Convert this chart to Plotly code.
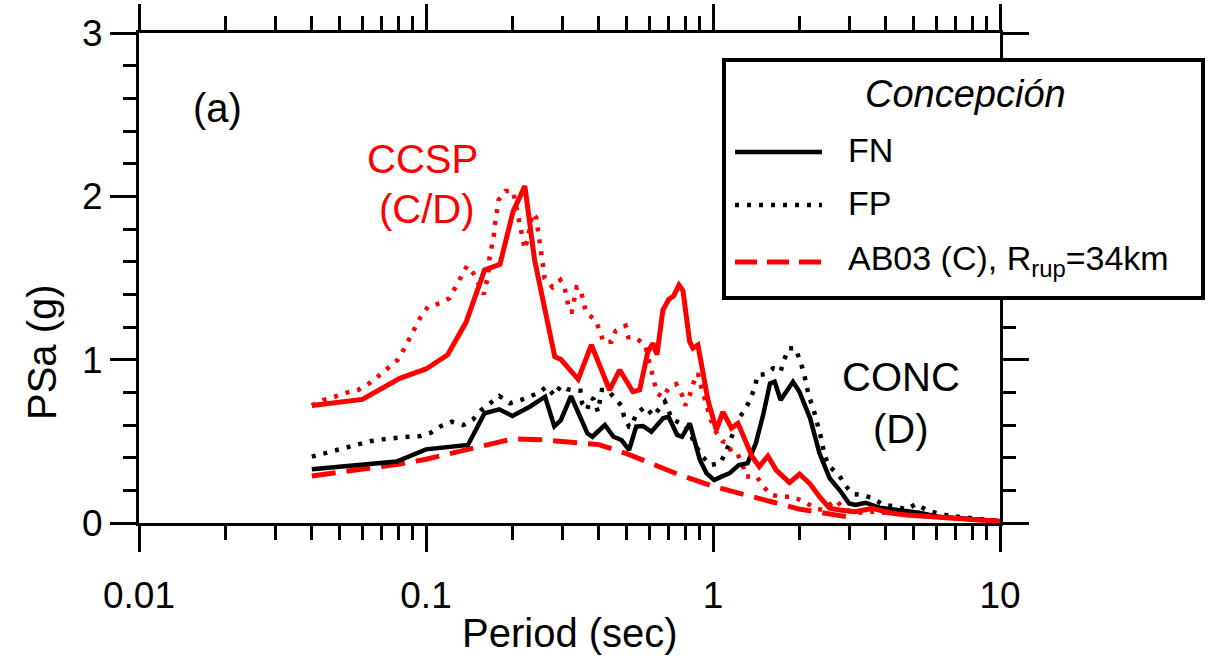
import numpy as np
import plotly.graph_objects as go

# Response spectra, 5% damped PSa (g) vs. period (s)
# CCSP station (site class C/D)
ccsp_fn_T = [0.04, 0.06, 0.081, 0.10, 0.119, 0.138, 0.16, 0.181, 0.201, 0.221, 0.239, 0.281,
             0.295, 0.339, 0.377, 0.436, 0.473, 0.526, 0.555, 0.593, 0.618, 0.638, 0.669,
             0.702, 0.729, 0.761, 0.786, 0.829, 0.851, 0.886, 0.960, 1.027, 1.083, 1.16,
             1.222, 1.341, 1.37, 1.45, 1.553, 1.66, 1.848, 2.003, 2.17, 2.35, 2.55, 2.76,
             3.12, 3.61, 4.1, 4.71, 6.1, 8.0, 10.0]
ccsp_fn_sa = [0.72, 0.757, 0.886, 0.943, 1.03, 1.23, 1.55, 1.584, 1.906, 2.063, 1.61, 1.018,
              1.002, 0.88, 1.09, 0.814, 0.937, 0.804, 0.814, 1.049, 1.10, 1.03, 1.304,
              1.37, 1.39, 1.457, 1.422, 1.11, 1.07, 1.09, 0.753, 0.57, 0.68, 0.58,
              0.61, 0.447, 0.406, 0.345, 0.41, 0.324, 0.247, 0.30, 0.243, 0.161, 0.09, 0.08,
              0.069, 0.09, 0.063, 0.049, 0.035, 0.023, 0.01]

ccsp_fp_T = [0.04, 0.0438, 0.048, 0.0529, 0.058, 0.0634, 0.0685, 0.0739, 0.0796, 0.0837,
             0.0876, 0.0921, 0.0959, 0.1016, 0.1117, 0.1207, 0.127, 0.133, 0.139, 0.146,
             0.153, 0.159, 0.162, 0.165, 0.166, 0.169, 0.172, 0.174, 0.176, 0.179, 0.189,
             0.201, 0.209, 0.213, 0.217, 0.221, 0.227, 0.235, 0.242, 0.246, 0.249, 0.252,
             0.256, 0.259, 0.276, 0.294, 0.304, 0.31, 0.316, 0.322, 0.329, 0.335, 0.345,
             0.352, 0.361, 0.387, 0.404, 0.415, 0.443, 0.458, 0.496, 0.507, 0.536, 0.58,
             0.61, 0.62, 0.638, 0.67, 0.70, 0.744, 0.78, 0.80, 0.83, 0.854, 0.886, 0.908,
             0.932, 0.961, 0.983, 1.03, 1.08, 1.13, 1.16, 1.22, 1.27, 1.30, 1.42, 1.50,
             1.60, 1.73, 1.89, 2.1, 2.27, 2.4, 2.55, 2.68, 2.85, 3.1, 3.6, 4.2, 5.0, 6.1,
             8.0, 10.0]
ccsp_fp_sa = [0.72, 0.753, 0.773, 0.798, 0.814, 0.855, 0.902, 0.951, 0.998, 1.063,
              1.13, 1.198, 1.263, 1.324, 1.345, 1.376, 1.443, 1.51, 1.575, 1.53,
              1.463, 1.40, 1.457, 1.533, 1.61, 1.678, 1.753, 1.83, 1.90, 1.978, 2.033,
              2.033, 1.886, 1.81, 1.737, 1.676, 1.753, 1.896, 1.87, 1.794, 1.722, 1.647,
              1.57, 1.498, 1.443, 1.488, 1.443, 1.37, 1.294, 1.294, 1.365, 1.443, 1.437,
              1.361, 1.288, 1.247, 1.177, 1.106, 1.11, 1.177, 1.208, 1.137, 1.137, 1.09,
              0.937, 0.865, 0.794, 0.77, 0.825, 0.851, 0.784, 0.718, 0.784, 0.855, 0.917, 0.839,
              0.77, 0.708, 0.631, 0.55, 0.50, 0.49, 0.43, 0.42, 0.355, 0.284, 0.284, 0.222,
              0.171, 0.161, 0.161, 0.127, 0.09, 0.08, 0.11, 0.14, 0.09, 0.06, 0.07, 0.06, 0.045, 0.035,
              0.022, 0.01]

# CONC station (site class D)
conc_fn_T = [0.04, 0.079, 0.10, 0.14, 0.16, 0.18, 0.20, 0.23, 0.26, 0.28, 0.295, 0.32, 0.34,
             0.365, 0.38, 0.42, 0.45, 0.48, 0.51, 0.54, 0.57, 0.61, 0.67, 0.70, 0.75, 0.78,
             0.83, 0.87, 0.90, 0.95, 1.01, 1.07, 1.14, 1.23, 1.32, 1.41, 1.50, 1.58, 1.64,
             1.72, 1.90, 2.0, 2.18, 2.35, 2.55, 2.76, 2.98, 3.14, 3.4, 3.8, 4.37, 5.22, 6.1,
             8.0, 10.0]
conc_fn_sa = [0.329, 0.376, 0.451, 0.478, 0.672, 0.696, 0.655, 0.712, 0.773, 0.592, 0.63, 0.777, 0.672,
              0.549, 0.528, 0.60, 0.528, 0.508, 0.447, 0.59, 0.594, 0.559, 0.641, 0.651, 0.539, 0.528,
              0.61, 0.467, 0.386, 0.304, 0.263, 0.284, 0.304, 0.355, 0.366, 0.488, 0.672, 0.855, 0.865,
              0.753, 0.865, 0.804, 0.641, 0.427, 0.274, 0.202, 0.12, 0.11, 0.124, 0.094, 0.08, 0.063, 0.039,
              0.023, 0.01]

conc_fp_T = [0.04, 0.0438, 0.048, 0.053, 0.059, 0.0645, 0.0707, 0.078, 0.0866, 0.0957, 0.104,
             0.113, 0.123, 0.135, 0.146, 0.156, 0.167, 0.18, 0.196, 0.214, 0.248, 0.263, 0.28,
             0.295, 0.31, 0.329, 0.345, 0.35, 0.364, 0.375, 0.384, 0.397, 0.41, 0.43, 0.45, 0.48,
             0.49, 0.51, 0.52, 0.54, 0.58, 0.62, 0.68, 0.72, 0.78, 0.80, 0.83, 0.86, 0.92, 0.98,
             1.06, 1.11, 1.15, 1.23, 1.29, 1.35, 1.40, 1.43, 1.53, 1.62, 1.68, 1.72, 1.77, 1.84,
             1.94, 2.0, 2.07, 2.11, 2.16, 2.23, 2.28, 2.33, 2.4, 2.44, 2.55, 2.76, 2.9, 3.07,
             3.33, 3.6, 3.93, 4.26, 4.71, 5.1, 5.6, 6.1, 6.7, 7.4, 8.2, 9.0, 10.0]
conc_fp_sa = [0.406, 0.422, 0.443, 0.463, 0.484, 0.502, 0.512, 0.522, 0.528, 0.533, 0.553,
              0.594, 0.62, 0.60, 0.635, 0.692, 0.737, 0.778, 0.733, 0.753, 0.798, 0.835, 0.78,
              0.84, 0.82, 0.81, 0.81, 0.733, 0.692, 0.767, 0.757, 0.682, 0.814, 0.814, 0.773, 0.718,
              0.651, 0.59, 0.59, 0.667, 0.712, 0.655, 0.743, 0.635, 0.606, 0.60, 0.559, 0.488, 0.406, 0.355,
              0.366, 0.437, 0.508, 0.641, 0.692, 0.757, 0.835, 0.906, 0.912, 0.947, 0.94, 0.926, 1.0, 1.07,
              1.07, 1.0, 0.926, 0.855, 0.773, 0.708, 0.641, 0.569, 0.498, 0.416, 0.345, 0.288, 0.227, 0.178,
              0.171, 0.151, 0.11, 0.104, 0.084, 0.116, 0.075, 0.059, 0.043, 0.035, 0.029, 0.02, 0.01]

# Atkinson & Boore (2003) interface model, site class C, Rrup = 34 km
ab03_T = [0.04, 0.05, 0.08, 0.10, 0.15, 0.20, 0.25, 0.30, 0.40, 0.50, 0.75, 1.0, 1.5, 2.0, 3.0]
ab03_sa = [0.288, 0.31, 0.36, 0.39, 0.46, 0.515, 0.51, 0.50, 0.48, 0.425, 0.30, 0.225, 0.14, 0.085, 0.035]

x_ticks = [0.01, 0.1, 1, 10]
x_tick_text = ["0.01", "0.1", "1", "10"]
y_ticks = [0, 1, 2, 3]

FONT = "Liberation Sans, Arial, sans-serif"
RED = "#ff0000"
BLACK = "#000000"
DOT = "4px,8px"
DASH = "24px,11px"

fig = go.Figure()
fig.add_trace(go.Scatter(x=ccsp_fp_T, y=ccsp_fp_sa, mode="lines",
                         line=dict(color=RED, width=4.5, dash=DOT), name="CCSP FP"))
fig.add_trace(go.Scatter(x=conc_fp_T, y=conc_fp_sa, mode="lines",
                         line=dict(color=BLACK, width=4.5, dash=DOT), name="FP"))
fig.add_trace(go.Scatter(x=ab03_T, y=ab03_sa, mode="lines",
                         line=dict(color=RED, width=5, dash=DASH), name="AB03 (C)"))
fig.add_trace(go.Scatter(x=conc_fn_T, y=conc_fn_sa, mode="lines",
                         line=dict(color=BLACK, width=4.5), name="FN"))
fig.add_trace(go.Scatter(x=ccsp_fn_T, y=ccsp_fn_sa, mode="lines",
                         line=dict(color=RED, width=5), name="CCSP FN"))

axis_common = dict(showgrid=False, zeroline=False, showline=True, linecolor=BLACK,
                   linewidth=3, mirror="allticks", ticks="outside", ticklen=26,
                   tickwidth=2.5, tickcolor=BLACK, automargin=False,
                   tickfont=dict(family=FONT, size=37, color=BLACK))

fig.update_xaxes(type="log", range=[-2, 1], tickvals=x_ticks, ticktext=x_tick_text,
                 ticklabelstandoff=12,
                 minor=dict(ticks="outside", ticklen=14, tickwidth=2.5, tickcolor=BLACK,
                            dtick="D1", showgrid=False),
                 **axis_common)
fig.update_yaxes(range=[0, 3], tickvals=y_ticks,
                 minor=dict(ticks="outside", ticklen=13, tickwidth=2.5, tickcolor=BLACK,
                            dtick=0.2, showgrid=False),
                 **axis_common)


def px_x(p):
    return (p - 139) / 861.0


def px_y(p):
    return (523 - p) / 490.0


ann = []


def label(text, x, y, size=40, color=BLACK, xanchor="center", **kw):
    ann.append(dict(text=text, x=px_x(x), y=px_y(y), xref="paper", yref="paper",
                    showarrow=False, xanchor=xanchor, yanchor="middle",
                    font=dict(family=FONT, size=size, color=color), **kw))


label("(a)", 217, 108)
label("CCSP", 422, 159, color=RED)
label("(C/D)", 427, 209, color=RED)
label("CONC", 901, 377)
label("(D)", 901, 429)
label("Period (sec)", 570, 633)
label("PSa (g)", 42, 352, textangle=-90)

# legend box
shapes = [dict(type="rect", xref="paper", yref="paper", x0=px_x(724), x1=px_x(1203),
               y0=px_y(298), y1=px_y(60), line=dict(color=BLACK, width=4),
               fillcolor="white", layer="above")]
legend_rows = [("FN", 152, dict(color=BLACK, width=4.5)),
               ("FP", 205, dict(color=BLACK, width=4.5, dash=DOT)),
               ("AB03 (C), R<sub>rup</sub>=34km", 262, dict(color=RED, width=5, dash="22px,10px"))]
for text, yy, ln in legend_rows:
    shapes.append(dict(type="line", xref="paper", yref="paper", x0=px_x(735), x1=px_x(822),
                       y0=px_y(yy), y1=px_y(yy), line=ln, layer="above"))
    label(text, 846, yy - 2, size=34, xanchor="left")
label("<i>Concepción</i>", 965, 94, size=38)

fig.update_layout(width=1208, height=661, margin=dict(l=139, r=208, t=33, b=138),
                  plot_bgcolor="white", paper_bgcolor="white", showlegend=False,
                  annotations=ann, shapes=shapes,
                  font=dict(family=FONT, color=BLACK))

fig.write_html("out.html")
